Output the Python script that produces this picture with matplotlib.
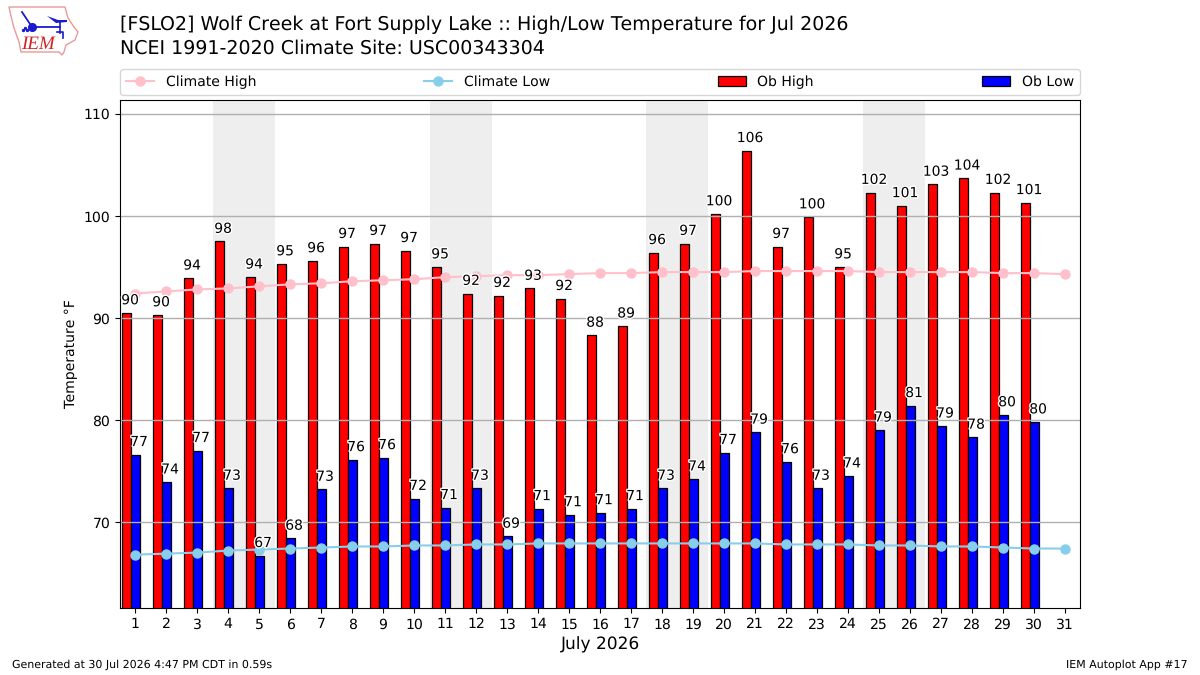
import matplotlib
matplotlib.use("Agg")
import matplotlib.pyplot as plt
import matplotlib.patheffects as pe
from matplotlib.patches import Polygon

plt.rcParams["text.hinting"] = "none"
plt.rcParams["text.hinting_factor"] = 1

days = list(range(1, 32))
ob_high = [90.5, 90.3, 93.9, 97.5, 94.0, 95.3, 95.6, 97.0, 97.3, 96.6,
           95.0, 92.4, 92.2, 92.9, 91.9, 88.3, 89.2, 96.4, 97.3, 100.2,
           106.4, 97.0, 99.9, 95.0, 102.3, 101.0, 103.1, 103.7, 102.3, 101.3]
ob_low = [76.6, 73.9, 77.0, 73.3, 66.7, 68.4, 73.2, 76.1, 76.3, 72.3,
          71.4, 73.3, 68.6, 71.3, 70.7, 70.9, 71.3, 73.3, 74.2, 76.8,
          78.8, 75.9, 73.3, 74.5, 79.0, 81.4, 79.4, 78.3, 80.5, 79.8]
climate_high = [92.4, 92.6, 92.8, 92.9, 93.1, 93.3, 93.4, 93.6, 93.7, 93.8,
                94.0, 94.1, 94.2, 94.2, 94.3, 94.4, 94.4, 94.5, 94.5, 94.5,
                94.6, 94.6, 94.6, 94.6, 94.5, 94.5, 94.5, 94.5, 94.4, 94.4, 94.3]
climate_low = [66.8, 66.9, 67.0, 67.2, 67.3, 67.4, 67.5, 67.6, 67.6, 67.7,
               67.7, 67.8, 67.8, 67.9, 67.9, 67.9, 67.9, 67.9, 67.9, 67.9,
               67.9, 67.8, 67.8, 67.8, 67.7, 67.7, 67.6, 67.6, 67.5, 67.4, 67.4]
weekends = [(3.5, 5.5), (10.5, 12.5), (17.5, 19.5), (24.5, 26.5)]

W, H = 1200, 675
fig = plt.figure(figsize=(12, 6.75), dpi=100)
ax = fig.add_axes([120 / W, 1 - 608 / H, 960 / W, 508 / H])

for start, end in weekends:
    ax.axvspan(start, end, facecolor="#eeeeee", edgecolor="none", zorder=0.5)

# Gridlines sit above the bars and below the climate lines
ax.yaxis.grid(True, color="#b0b0b0", linewidth=1.0)
ax.set_axisbelow("line")

bar_w = 0.29
high_x = [d - 0.43 for d in days[:len(ob_high)]]
low_x = [d - 0.14 for d in days[:len(ob_low)]]
ax.bar(high_x, ob_high, width=bar_w, align="edge", color="red",
       edgecolor="black", linewidth=0.9, label="Ob High", zorder=1)
ax.bar(low_x, ob_low, width=bar_w, align="edge", color="blue",
       edgecolor="black", linewidth=0.9, label="Ob Low", zorder=1)

ax.plot(days, climate_high, color="pink", marker="o", markersize=6.5,
        linewidth=1.5, label="Climate High", zorder=3)
ax.plot(days, climate_low, color="skyblue", marker="o", markersize=6.5,
        linewidth=1.5, label="Climate Low", zorder=3)

halo = [pe.withStroke(linewidth=2, foreground="white")]
for xs, values in ((high_x, ob_high), (low_x, ob_low)):
    for x, v in zip(xs, values):
        ax.annotate(f"{v:.0f}", xy=(x + bar_w / 2, v), xytext=(4, 12.5),
                    textcoords="offset pixels", ha="center", va="center",
                    fontsize=10, color="black", path_effects=halo, zorder=4)

ax.set_xlim(0.516, 31.484)
ax.set_ylim(61.57, 111.37)
ax.set_xticks(days)
ax.set_yticks([70, 80, 90, 100, 110])
ax.tick_params(labelsize=10)
ax.set_ylabel("Temperature °F", fontsize=10)
ax.set_xlabel("July 2026", fontsize=12)

handles, labels = ax.get_legend_handles_labels()
order = [labels.index(n) for n in ("Climate High", "Climate Low", "Ob High", "Ob Low")]
ax.legend([handles[i] for i in order], [labels[i] for i in order],
          ncol=4, mode="expand", loc="lower left", borderpad=0.45, handletextpad=0.84,
          bbox_to_anchor=(0, 1.01, 1, 0.06), borderaxespad=0, fontsize=10)

fig.text(120 / W, 1 - 25 / H, "[FSLO2] Wolf Creek at Fort Supply Lake :: High/Low Temperature for Jul 2026",
         fontsize=14, va="center", ha="left")
fig.text(120 / W, 1 - 48 / H, "NCEI 1991-2020 Climate Site: USC00343304",
         fontsize=14, va="center", ha="left")
fig.text(12 / W, 1 - 665 / H, "Generated at 30 Jul 2026 4:47 PM CDT in 0.59s",
         fontsize=8, va="center", ha="left")
fig.text(1188 / W, 1 - 665 / H, "IEM Autoplot App #17",
         fontsize=8, va="center", ha="right")

# Iowa-shaped site logo, laid out in pixel units
logo = fig.add_axes([0, 1 - 65 / H, 120 / W, 65 / H])
logo.set_xlim(0, 120)
logo.set_ylim(65, 0)
logo.axis("off")
logo.add_patch(Polygon(
    [(9, 7), (65, 7), (68, 18), (74, 27), (78, 32), (75, 40), (66, 45),
     (64, 52), (62, 55), (59, 52), (21, 52), (19, 42), (14, 28), (11, 16)],
    closed=True, fill=False, edgecolor="#e89a9a", linewidth=1.0))
logo.plot([22, 26, 32], [12, 18, 27], color="#1a1ad0", linewidth=1.3)
logo.plot([32, 60], [27, 27], color="#1a1ad0", linewidth=1.3)
logo.plot([32], [27], marker="o", markersize=5.5, color="#1a1ad0")
logo.add_patch(Polygon([(47, 16), (58, 20), (67, 20), (67, 22), (56, 23)],
                       closed=True, color="#1a1ad0", linewidth=0))
logo.plot([60, 60], [22, 33], color="#1a1ad0", linewidth=1.2)
logo.plot([57, 63, 63], [32, 32, 38], color="#1a1ad0", linewidth=1.2)
logo.plot([23, 25, 27], [30, 28, 30], linestyle="none", marker="o", markersize=1.4, color="#1a1ad0")
logo.text(38, 44, "IEM", family="Liberation Serif", style="italic", fontsize=14,
          color="#d42020", ha="center", va="center")

fig.savefig("out.png", dpi=100, facecolor="white")
